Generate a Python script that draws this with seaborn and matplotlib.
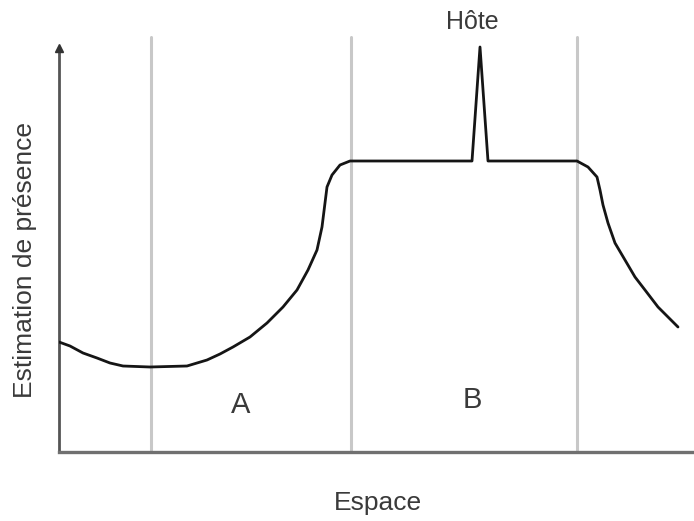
import matplotlib
matplotlib.use("Agg")
import matplotlib.pyplot as plt
import seaborn as sns
import pandas as pd

# Presence estimate along space (arbitrary units)
espace = [0, 11, 24, 38, 51, 64, 91, 128, 148, 161, 174, 191, 208, 224, 238,
          249, 258, 263, 266, 268, 273, 281, 291,
          413, 421, 429,
          518, 529, 538, 541, 544, 549, 556, 566, 576, 586, 599, 619]
presence = [110, 106, 99, 94, 89, 86, 85, 86, 92, 98, 105, 115, 129, 145, 162,
            182, 202, 225, 249, 265, 277, 287, 291,
            291, 405, 291,
            291, 285, 275, 262, 247, 229, 209, 192, 175, 162, 145, 125]

# Zone boundaries and labels
frontieres = [92, 292, 518]
zones = ["A", "B"]
zones_x = [182, 413]
zones_y = [47, 52]
hote_x, hote_y = 413, 430

df = pd.DataFrame({"Espace": espace, "Presence": presence})

sns.set_theme(style="white")
plt.rcParams["font.family"] = ["Liberation Sans", "DejaVu Sans"]

W, H = 694, 521
fig = plt.figure(figsize=(W / 100, H / 100), dpi=100)
ax = fig.add_axes([59 / W, 69 / H, 635 / W, (452 - 30) / H])
ax.set_xlim(0, 635)
ax.set_ylim(0, 422)

for xb in frontieres:
    ax.axvline(xb, ymin=0, ymax=415 / 422, color="#c8c8c8", lw=2.2, zorder=1)

sns.lineplot(data=df, x="Espace", y="Presence", sort=False, estimator=None,
             color="#151515", lw=2.0, ax=ax, zorder=3)

# Axes: left with arrow, bottom plain
for s in ["top", "right"]:
    ax.spines[s].set_visible(False)
ax.spines["left"].set_bounds(0, 404)
ax.spines["left"].set_color("#555555")
ax.spines["left"].set_linewidth(2.0)
ax.spines["bottom"].set_color("#707070")
ax.spines["bottom"].set_linewidth(2.4)
ax.plot([0], [404], marker="^", color="#333333", markersize=6, clip_on=False, zorder=4)

ax.set_xticks([])
ax.set_yticks([])
ax.set_xlabel("")
ax.set_ylabel("")

txt = "#3a3a3a"
for lab, zx, zy in zip(zones, zones_x, zones_y):
    ax.text(zx, zy, lab, ha="center", va="center", fontsize=21, color=txt)
ax.text(hote_x, hote_y, "Hôte", ha="center", va="center", fontsize=18,
        color=txt, clip_on=False)

fig.text(378 / W, 1 - 503 / H, "Espace", ha="center", va="center", fontsize=19, color=txt)
fig.text(25 / W, 1 - 260 / H, "Estimation de présence", ha="center", va="center",
         rotation=90, fontsize=19, color=txt)

fig.savefig("out.png", dpi=100, facecolor="white")
